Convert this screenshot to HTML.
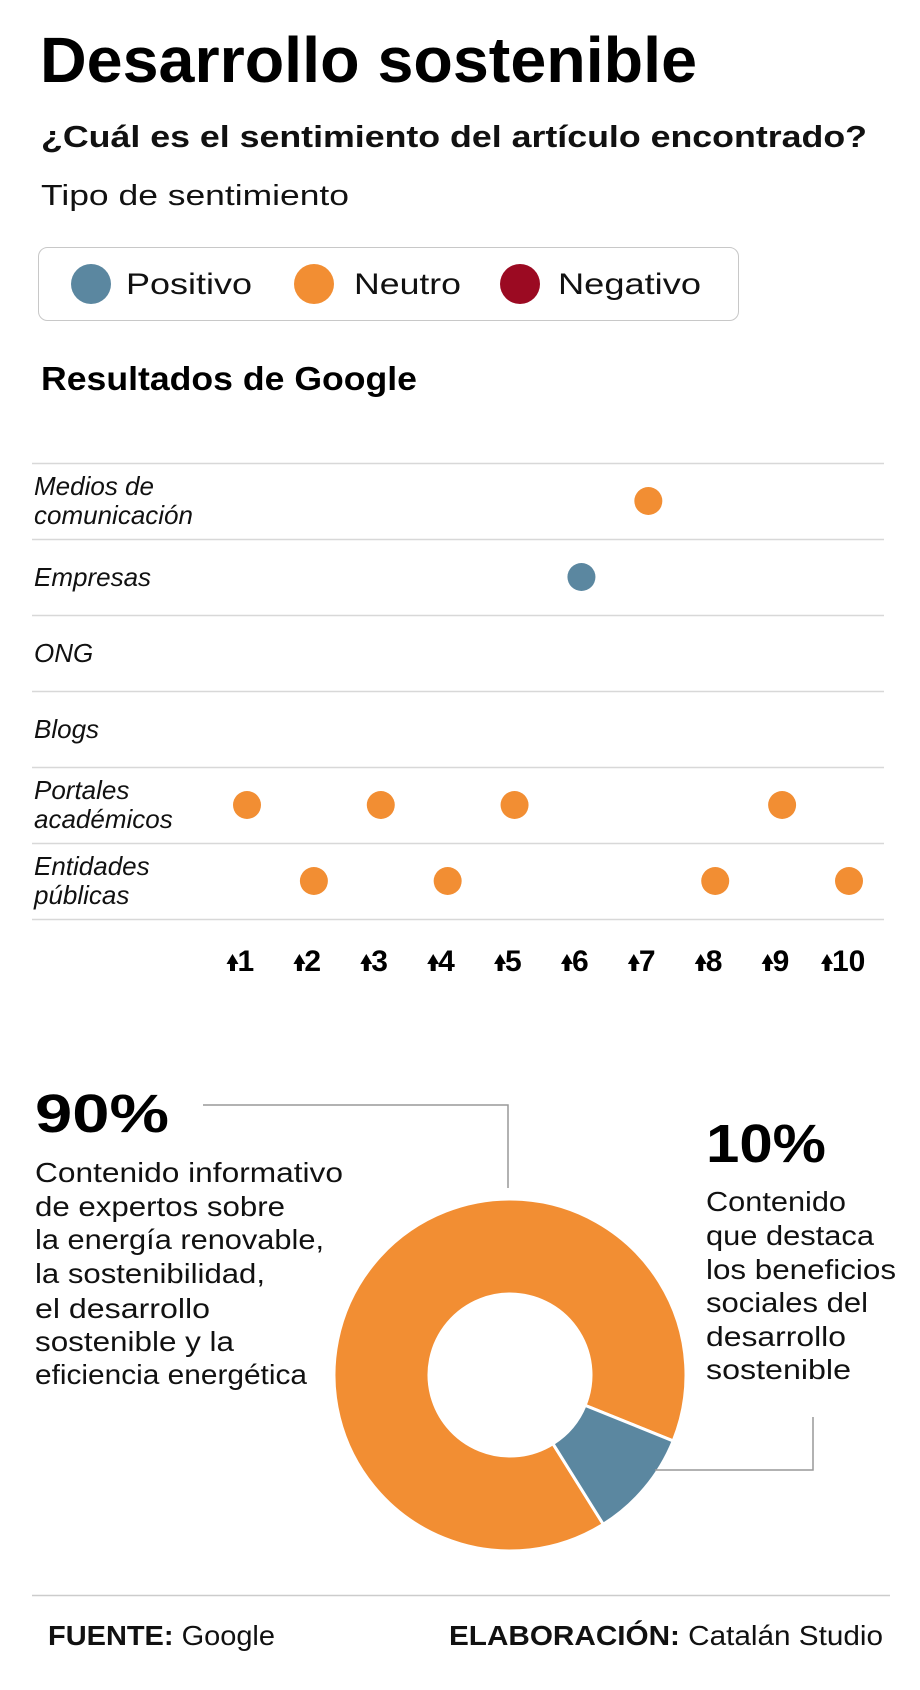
<!DOCTYPE html>
<html><head><meta charset="utf-8">
<style>
html,body{margin:0;padding:0;background:#fff;}
svg{display:block;font-family:"Liberation Sans",sans-serif;}
</style></head>
<body>
<svg id="chart" width="920" height="1690" viewBox="0 0 920 1690">
<text x="40" y="82" font-size="64" font-weight="bold" fill="#000" textLength="657" lengthAdjust="spacingAndGlyphs">Desarrollo sostenible</text>
<text x="41" y="147" font-size="31" font-weight="bold" fill="#111" textLength="826" lengthAdjust="spacingAndGlyphs">¿Cuál es el sentimiento del artículo encontrado?</text>
<text x="41" y="205" font-size="29" fill="#111" textLength="308" lengthAdjust="spacingAndGlyphs">Tipo de sentimiento</text>
<g>
<rect x="38.5" y="247.5" width="700" height="73" rx="9" fill="#fff" stroke="#c8c8c8"/>
<g><circle cx="91" cy="284" r="20" fill="#5b87a0"/><text x="126" y="294" font-size="30" fill="#111" textLength="126" lengthAdjust="spacingAndGlyphs">Positivo</text></g>
<g><circle cx="314" cy="284" r="20" fill="#f28e33"/><text x="354" y="294" font-size="30" fill="#111" textLength="107" lengthAdjust="spacingAndGlyphs">Neutro</text></g>
<g><circle cx="520" cy="284" r="20" fill="#9b0a22"/><text x="558" y="294" font-size="30" fill="#111" textLength="143" lengthAdjust="spacingAndGlyphs">Negativo</text></g>
</g>
<text x="41" y="390" font-size="33" font-weight="bold" fill="#000" textLength="376" lengthAdjust="spacingAndGlyphs">Resultados de Google</text>
<g id="dotplot"></g>
<g id="donut"></g>
<g>
<text x="35" y="1132" font-size="54" font-weight="bold" fill="#000" textLength="134" lengthAdjust="spacingAndGlyphs">90%</text>
<polyline points="203,1105 508,1105 508,1188" fill="none" stroke="#999" stroke-width="1.5"/>
<g font-size="28" fill="#111">
<text x="35" y="1182" textLength="308" lengthAdjust="spacingAndGlyphs">Contenido informativo</text>
<text x="35" y="1216" textLength="250" lengthAdjust="spacingAndGlyphs">de expertos sobre</text>
<text x="35" y="1249" textLength="289" lengthAdjust="spacingAndGlyphs">la energía renovable,</text>
<text x="35" y="1283" textLength="230" lengthAdjust="spacingAndGlyphs">la sostenibilidad,</text>
<text x="35" y="1318" textLength="175" lengthAdjust="spacingAndGlyphs">el desarrollo</text>
<text x="35" y="1351" textLength="199" lengthAdjust="spacingAndGlyphs">sostenible y la</text>
<text x="35" y="1384" textLength="272" lengthAdjust="spacingAndGlyphs">eficiencia energética</text>
</g></g>
<g>
<text x="706" y="1162" font-size="54" font-weight="bold" fill="#000" textLength="120" lengthAdjust="spacingAndGlyphs">10%</text>
<polyline points="655,1470 813,1470 813,1417" fill="none" stroke="#999" stroke-width="1.5"/>
<g font-size="28" fill="#111">
<text x="706" y="1211" textLength="140" lengthAdjust="spacingAndGlyphs">Contenido</text>
<text x="706" y="1245" textLength="168" lengthAdjust="spacingAndGlyphs">que destaca</text>
<text x="706" y="1279" textLength="190" lengthAdjust="spacingAndGlyphs">los beneficios</text>
<text x="706" y="1312" textLength="162" lengthAdjust="spacingAndGlyphs">sociales del</text>
<text x="706" y="1346" textLength="140" lengthAdjust="spacingAndGlyphs">desarrollo</text>
<text x="706" y="1379" textLength="145" lengthAdjust="spacingAndGlyphs">sostenible</text>
</g></g>
<line x1="32" y1="1595.5" x2="890" y2="1595.5" stroke="#ccc" stroke-width="1.5"/>
<text x="48" y="1645" font-size="28" fill="#111" textLength="227" lengthAdjust="spacingAndGlyphs"><tspan font-weight="bold">FUENTE:</tspan> Google</text>
<text x="449" y="1645" font-size="28" fill="#111" textLength="434" lengthAdjust="spacingAndGlyphs"><tspan font-weight="bold">ELABORACIÓN:</tspan> Catalán Studio</text>
</svg>
<script>
const rowNames = ["Medios de|comunicación","Empresas","ONG","Blogs","Portales|académicos","Entidades|públicas"];
const ranks = [1,2,3,4,5,6,7,8,9,10];
const resultRow = [4,5,4,5,4,1,0,5,4,5];
const resultSentiment = ["neutro","neutro","neutro","neutro","neutro","positivo","neutro","neutro","neutro","neutro"];
const tickLabels = ["1","2","3","4","5","6","7","8","9","10"];
const donutLabels = ["Neutro","Positivo"];
const donutValues = [90,10];

const NS="http://www.w3.org/2000/svg";
const colors={positivo:"#5b87a0",neutro:"#f28e33",negativo:"#9b0a22"};
function mk(tag,attrs,parent){const e=document.createElementNS(NS,tag);for(const k in attrs)e.setAttribute(k,attrs[k]);parent.appendChild(e);return e;}
const rowTop=463,rowH=76;
const yRow=i=>rowTop+rowH*i+rowH/2;
const xRank=r=>247+(r-1)*(849-247)/9;
const dp=document.getElementById("dotplot");
for(let i=0;i<=rowNames.length;i++){
  const l=mk("line",{x1:32,x2:884,y1:rowTop+rowH*i+0.5,y2:rowTop+rowH*i+0.5,stroke:"#d8d8d8","stroke-width":1.5},dp);
  
  
}
rowNames.forEach((n,i)=>{
  const parts=n.split("|");
  const t=mk("text",{x:34,"font-size":26,"font-style":"italic",fill:"#111"},dp);
  
  
  parts.forEach((p,j)=>{
    const y=parts.length===1?yRow(i)+9:yRow(i)-6+j*29;
    const ts=mk("tspan",{x:34,y:y},t);ts.textContent=p;
  });
});
ranks.forEach((r,i)=>{
  const c=mk("circle",{cx:xRank(r),cy:yRow(resultRow[i]),r:14,fill:colors[resultSentiment[i]]},dp);
  
  
  const g=mk("g",{},dp);
  
  
  const x=xRank(r);
  const w=tickLabels[i].length>1?30:15;
  mk("path",{d:`M${x-w/2-13} ${964} l6 -10 l6 10 h-3.5 v7 h-5 v-7 z`,fill:"#000"},g);
  const t=mk("text",{x:x-w/2-2,y:971,"font-size":30,"font-weight":"bold",fill:"#000"},g);
  t.textContent=tickLabels[i];
});
const dn=document.getElementById("donut");
const cx=510,cy=1375,R=176,r0=81;
const total=donutValues.reduce((a,b)=>a+b,0);
let a0=112-360*donutValues[0]/total;
const pt=(ang,rad)=>[cx+rad*Math.sin(ang*Math.PI/180),cy-rad*Math.cos(ang*Math.PI/180)];
donutValues.forEach((v,i)=>{
  const a1=a0+360*v/total;
  const large=(a1-a0)>180?1:0;
  const [x1,y1]=pt(a0,R),[x2,y2]=pt(a1,R),[x3,y3]=pt(a1,r0),[x4,y4]=pt(a0,r0);
  const p=mk("path",{d:`M${x1} ${y1} A${R} ${R} 0 ${large} 1 ${x2} ${y2} L${x3} ${y3} A${r0} ${r0} 0 ${large} 0 ${x4} ${y4} Z`,fill:i===0?colors.neutro:colors.positivo,stroke:"#fff","stroke-width":3},dn);
  
  
  a0=a1;
});
</script>
</body></html>
